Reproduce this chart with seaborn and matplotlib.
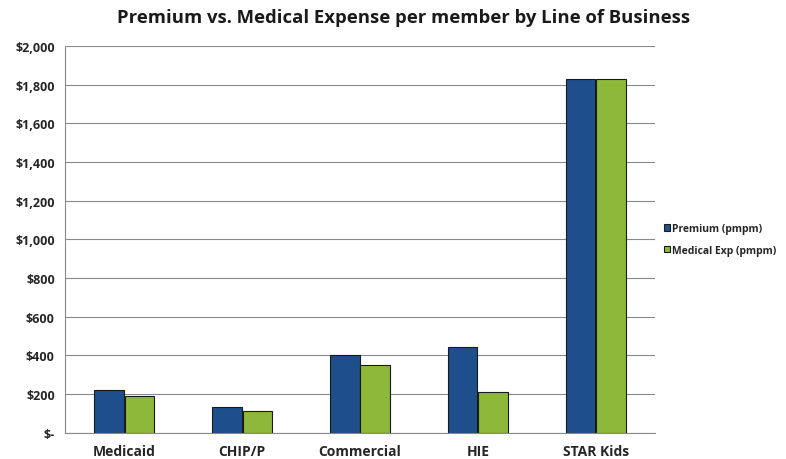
import pandas as pd
import numpy as np
import matplotlib
matplotlib.use("Agg")
import matplotlib.pyplot as plt
import seaborn as sns
from matplotlib.ticker import FuncFormatter, FixedLocator

categories = ["Medicaid", "CHIP/P", "Commercial", "HIE", "STAR Kids"]
premium = [222, 134, 403, 444, 1829]
medical_exp = [191, 114, 351, 212, 1830]
series_names = ["Premium (pmpm)", "Medical Exp (pmpm)"]

df = pd.DataFrame({
    "Line": categories * 2,
    "Value": premium + medical_exp,
    "Series": [series_names[0]] * len(categories) + [series_names[1]] * len(categories),
})

sns.set_style("white")
plt.rcParams["font.family"] = ["Open Sans", "DejaVu Sans"]
plt.rcParams["font.weight"] = "bold"

fig = plt.figure(figsize=(7.86, 4.6), dpi=100)
ax = fig.add_axes([0.083, 0.057, 0.750, 0.841])

sns.barplot(data=df, x="Line", y="Value", hue="Series", ax=ax,
            palette=["#1F4E8C", "#8DB83A"], width=0.52, gap=0.03,
            edgecolor="#1a1a1a", linewidth=0.8, saturation=1)

ax.set_ylim(0, 2000)
ax.set_xlim(-0.5, len(categories) - 0.5)
ax.yaxis.set_major_locator(FixedLocator(np.arange(0, 2001, 200)))
ax.yaxis.set_major_formatter(FuncFormatter(lambda v, p: "$-" if v == 0 else f"${v:,.0f}"))
ax.grid(axis="y", color="#8a8a8a", linewidth=0.8)
ax.set_axisbelow(True)

for s in ["top", "right"]:
    ax.spines[s].set_visible(False)
ax.spines["left"].set_color("#8a8a8a")
ax.spines["bottom"].set_color("#8a8a8a")

ax.tick_params(axis="y", length=4, color="#8a8a8a", labelsize=9)
ax.tick_params(axis="x", length=0, labelsize=10, pad=8)
ax.set_xticks(np.arange(-0.5, len(categories)), minor=True)
ax.tick_params(axis="x", which="minor", length=4, color="#8a8a8a")
for lbl in ax.get_xticklabels() + ax.get_yticklabels():
    lbl.set_fontweight("bold")

ax.set_xlabel("")
ax.set_ylabel("")
fig.text(0.513, 0.96, "Premium vs. Medical Expense per member by Line of Business",
         ha="center", va="center", fontsize=13.3, fontweight="bold", color="#1a1a1a")

ax.legend(loc="center left", bbox_to_anchor=(1.0, 0.5), frameon=False,
          prop={"size": 7.5, "weight": "bold"}, handlelength=0.6, handleheight=0.6,
          handletextpad=0.2, labelspacing=1.0)

plt.savefig("out.png", dpi=100)
